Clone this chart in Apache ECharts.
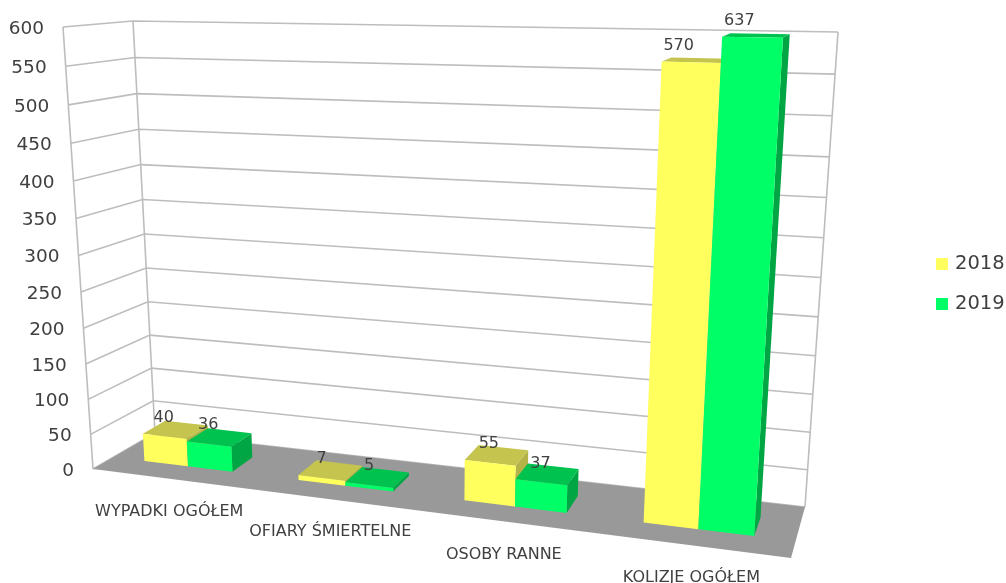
<!DOCTYPE html>
<html><head><meta charset="utf-8">
<style>html,body{margin:0;padding:0;background:#fff}#c{width:1006px;height:583px}</style>
<script src="https://cdn.jsdelivr.net/npm/echarts@6/dist/echarts.min.js"></script>
</head><body><div id="c"></div>
<script>
var categories = ['WYPADKI OGÓŁEM','OFIARY ŚMIERTELNE','OSOBY RANNE','KOLIZJE OGÓŁEM'];
var values2018 = [40,7,55,570];
var values2019 = [36,5,37,637];
var yTicks = [0,50,100,150,200,250,300,350,400,450,500,550,600];

// view box of the 3D room on screen (perspective look of the chart)
var ROOM = {
  fbl:[93,469], fbr:[791,558], bbl:[155,433], bbr:[805,507],
  ftl:[63,27],  ftr:[823,42],  btl:[133,21],  btr:[838,32]
};
var KU = 0.165, KT = 0.07, Y_MAX = 600;
var BAR = 0.29, W0 = 0.33, W1 = 0.70;
var FONT = '"DejaVu Sans"', TXT = '#404040', GRIDC = '#bdbdbd';

function lerp(a,b,s){return [a[0]+(b[0]-a[0])*s, a[1]+(b[1]-a[1])*s];}
function proj(u,t,w){
  var uu = u/(1+KU*(1-u)), tt = t/(1+KT*(1-t));
  var fb = lerp(ROOM.fbl,ROOM.fbr,uu), bb = lerp(ROOM.bbl,ROOM.bbr,uu);
  var ft = lerp(ROOM.ftl,ROOM.ftr,uu), bt = lerp(ROOM.btl,ROOM.btr,uu);
  return lerp(lerp(fb,bb,w), lerp(ft,bt,w), tt);
}
function norm(params,api,i,offset,v){
  var cs = params.coordSys;
  var p = api.coord([i, Math.min(v,Y_MAX)]);
  var band = api.size([1,0])[0];
  return {u:(p[0]+offset*band-cs.x)/cs.width, t:(cs.y+cs.height-p[1])/cs.height};
}
function poly(points,fill){
  return {type:'polygon',shape:{points:points},style:{fill:fill}};
}
function text(str,x,y,size,align){
  return {type:'text',z2:20,style:{text:str,x:x,y:y,fill:TXT,font:size+'px '+FONT,textAlign:align||'center',textVerticalAlign:'middle'}};
}
function barSeries(name,values,off0,off1,front,top,side){
  return {
    type:'custom',name:name,coordinateSystem:'cartesian2d',silent:true,animation:false,z:3,
    itemStyle:{color:front},
    data:values.map(function(v,i){return [i,v];}),
    encode:{x:0,y:1},
    renderItem:function(params,api){
      var i=api.value(0), v=api.value(1);
      var a=norm(params,api,i,off0,0), b=norm(params,api,i,off1,v), u0=a.u,u1=b.u,t=b.t;
      var f=[proj(u0,0,W0),proj(u1,0,W0),proj(u1,t,W0),proj(u0,t,W0)];
      var s=[proj(u1,0,W0),proj(u1,0,W1),proj(u1,t,W1),proj(u1,t,W0)];
      var o=[proj(u0,t,W0),proj(u1,t,W0),proj(u1,t,W1),proj(u0,t,W1)];
      var c=proj((u0+u1)/2,t,W0);
      return {type:'group',children:[
        poly(s,side),poly(o,top),poly(f,front),
        text(String(v),c[0]-13*t,c[1]-19+3*t,16)
      ]};
    }
  };
}
var chart = echarts.init(document.getElementById('c'),null,{renderer:'canvas'});
chart.setOption({
  animation:false,
  backgroundColor:'#fff',
  grid:{left:100,right:100,top:100,bottom:100,show:false},
  xAxis:{type:'category',data:categories,show:false},
  yAxis:{type:'value',min:0,max:Y_MAX,interval:50,show:false},
  legend:{
    data:['2018','2019'],orient:'vertical',left:931,top:248,icon:'rect',
    itemWidth:12,itemHeight:12,itemGap:18,selectedMode:false,
    textStyle:{fontFamily:FONT,fontSize:19.5,color:TXT,padding:[0,0,0,2],lineHeight:22}
  },
  series:[
    {type:'custom',name:'walls',coordinateSystem:'cartesian2d',silent:true,animation:false,z:1,
     data:yTicks.map(function(v){return [0,v];}),encode:{x:0,y:1},
     renderItem:function(params,api){
       var v=api.value(1), t=norm(params,api,0,0,v).t;
       var line={stroke:GRIDC,lineWidth:1.6,fill:null};
       var a=proj(0,t,0),b=proj(0,t,1),c=proj(1,t,1);
       var kids=[{type:'polyline',shape:{points:[a,b,c]},style:line}];
       if(v===Y_MAX){
         kids.push({type:'polyline',shape:{points:[proj(0,0,0),proj(0,1,0)]},style:line});
         kids.push({type:'polyline',shape:{points:[proj(0,0,1),proj(0,1,1)]},style:line});
         kids.push({type:'polyline',shape:{points:[proj(1,0,1),proj(1,1,1)]},style:line});
       }
       kids.push(text(String(v),a[0]-19,a[1]+2,18.5,'right'));
       return {type:'group',children:kids};
     }},
    {type:'custom',name:'floor',coordinateSystem:'cartesian2d',silent:true,animation:false,z:2,
     data:categories.map(function(c,i){return [i,0];}),encode:{x:0,y:1},
     renderItem:function(params,api){
       var i=api.value(0), n=norm(params,api,i,0,0), kids=[];
       if(i===0) kids.push(poly([proj(0,0,0),proj(1,0,0),proj(1,0,1),proj(0,0,1)],'#999999'));
       var p=proj(n.u,0,0);
       kids.push(text(categories[i],p[0],p[1]+33,16));
       return {type:'group',children:kids};
     }},
    barSeries('2018',values2018,-BAR,0,'#ffff5e','#c4c44e','#b3b348'),
    barSeries('2019',values2019,0,BAR,'#00ff66','#00c24e','#00a644')
  ]
});
</script></body></html>
